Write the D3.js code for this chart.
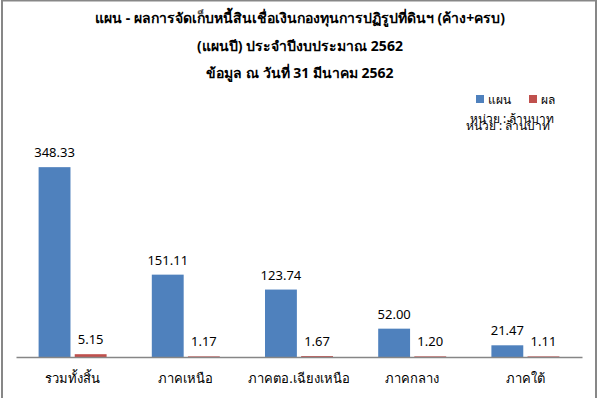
<!DOCTYPE html>
<html>
<head>
<meta charset="utf-8">
<script src="https://cdn.jsdelivr.net/npm/d3@7"></script>
<style>
  body { margin: 0; background: #fff; }
  text { font-family: Tahoma, "Noto Sans", "DejaVu Sans", sans-serif; fill: #000; }
</style>
</head>
<body>
<div id="chart"></div>
<script>
const titleLines = [
  'แผน - ผลการจัดเก็บหนี้สินเชื่อเงินกองทุนการปฏิรูปที่ดินฯ (ค้าง+ครบ)',
  '(แผนปี)  ประจำปีงบประมาณ 2562',
  'ข้อมูล ณ วันที่ 31 มีนาคม 2562'
]
const categories = ['รวมทั้งสิ้น', 'ภาคเหนือ', 'ภาคตอ.เฉียงเหนือ', 'ภาคกลาง', 'ภาคใต้']
const seriesNames = ['แผน', 'ผล']
const planValues = [348.33, 151.11, 123.74, 52.00, 21.47]
const resultValues = [5.15, 1.17, 1.67, 1.20, 1.11]
const colors = ['#4F81BD', '#C0504D']
const unitLabel = 'หน่วย : ล้านบาท'

const width = 598, height = 398
const margin = { top: 139, right: 16, bottom: 41, left: 16 }

const svg = d3.select('#chart').append('svg')
    .attr('width', width)
    .attr('height', height)

// outer frame
svg.append('rect')
    .attr('x', 2).attr('y', 0.5)
    .attr('width', 594).attr('height', 410)
    .attr('fill', 'none')
    .attr('stroke', '#878787')
    .attr('stroke-width', 2)

const title = svg.append('text')
    .attr('text-anchor', 'middle')
    .style('font-size', '14px')
    .style('font-weight', 'bold')
titleLines.forEach((t, i) => {
  title.append('tspan')
      .attr('x', 300)
      .attr('y', 23 + i * 27.5)
      .text(t)
})

const x0 = d3.scaleBand()
    .domain(categories)
    .range([margin.left, width - margin.right])

const x1 = d3.scaleBand()
    .domain(seriesNames)
    .range([0, 68])
    .paddingInner(8 / 68)

const y = d3.scaleLinear()
    .domain([0, 400])
    .range([height - margin.bottom, margin.top])

const data = categories.map((c, i) => ({ cat: c, vals: [planValues[i], resultValues[i]] }))

const groups = svg.append('g').selectAll('g')
    .data(data)
    .enter().append('g')
    .attr('transform', d => 'translate(' + (x0(d.cat) + x0.bandwidth() / 2 - 34) + ',0)')

groups.selectAll('rect')
    .data(d => d.vals.map((v, i) => ({ key: seriesNames[i], v: v, i: i })))
    .enter().append('rect')
    .attr('x', d => x1(d.key))
    .attr('y', d => y(d.v))
    .attr('width', x1.bandwidth())
    .attr('height', d => y(0) - y(d.v))
    .attr('fill', d => colors[d.i])

groups.selectAll('text.val')
    .data(d => d.vals.map((v, i) => ({ key: seriesNames[i], v: v })))
    .enter().append('text')
    .attr('class', 'val')
    .attr('x', d => x1(d.key) + x1.bandwidth() / 2)
    .attr('y', d => y(d.v) - 10)
    .attr('text-anchor', 'middle')
    .style('font-size', '13px')
    .text(d => d3.format('.2f')(d.v))

// x axis
const xAxis = svg.append('g')
    .attr('transform', 'translate(0,' + y(0) + ')')
    .call(d3.axisBottom(x0).tickSize(0).tickPadding(17))
xAxis.select('.domain').attr('stroke', '#868686').attr('stroke-width', 1.5)
xAxis.selectAll('text')
    .style('font-size', '13px')
    .style('font-family', 'Tahoma, "Noto Sans", "DejaVu Sans", sans-serif')
    .attr('fill', '#000')

// legend
const legend = svg.append('g')
seriesNames.forEach((name, i) => {
  const lx = 476 + i * 53
  legend.append('rect')
      .attr('x', lx).attr('y', 95)
      .attr('width', 8).attr('height', 8)
      .attr('fill', colors[i])
  legend.append('text')
      .attr('x', lx + 12).attr('y', 104)
      .style('font-size', '12px')
      .text(name)
})

// unit label (shown twice, slightly offset, as in the original)
svg.append('text')
    .attr('x', 470).attr('y', 123)
    .style('font-size', '12px')
    .text(unitLabel)
svg.append('text')
    .attr('x', 466).attr('y', 130)
    .style('font-size', '12px')
    .text(unitLabel)
</script>
</body>
</html>
